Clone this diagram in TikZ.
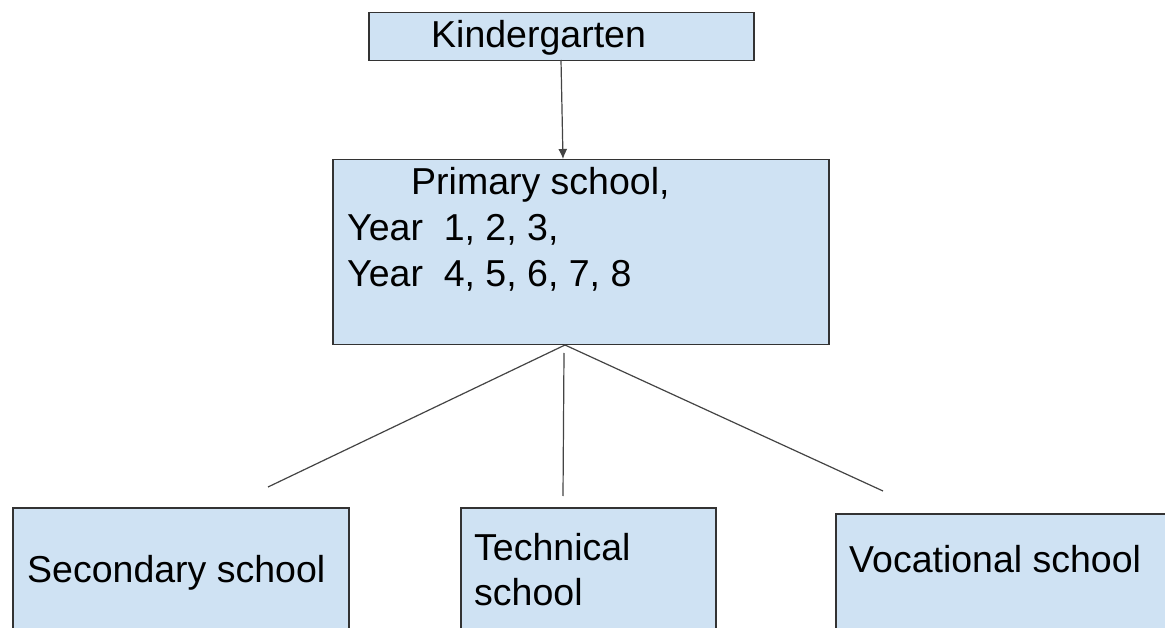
\documentclass[tikz,border=0pt]{standalone}
\usepackage{fontspec}
\setmainfont{Liberation Sans}
\usetikzlibrary{arrows.meta}
\definecolor{boxfill}{HTML}{CFE2F3}
\definecolor{boxline}{HTML}{333333}
\definecolor{conn}{HTML}{444444}
\tikzset{
  box/.style={draw=boxline, fill=boxfill, line width=1.5pt, rectangle, inner sep=0pt, anchor=north west},
  lbl/.style={inner sep=0pt, anchor=base west, align=left, font=\fontsize{37.5}{45.5}\selectfont, text=black},
  link/.style={draw=conn, line width=1.2pt},
}
\begin{document}
\begin{tikzpicture}[x=1pt,y=-1pt]
\useasboundingbox (0,0) rectangle (1165,628);
\clip (0,0) rectangle (1165,628);
\fill[white] (0,0) rectangle (1165,628);
% boxes
\node[box, minimum width=385pt, minimum height=48pt] (kg) at (368,12) {};
\node[box, minimum width=496pt, minimum height=185pt] (ps) at (332,159) {};
\node[box, minimum width=336pt, minimum height=160pt] (ss) at (12,507) {};
\node[box, minimum width=255pt, minimum height=160pt] (ts) at (460,507) {};
\node[box, minimum width=400pt, minimum height=160pt] (vs) at (835,513) {};
% texts
\node[lbl] (kgt) at (431,48) {Kindergarten};
\node[lbl] (pst1) at (411,195) {Primary school,};
\node[lbl] (pst2) at (347,241) {Year\ \ 1, 2, 3,};
\node[lbl] (pst3) at (347,287) {Year\ \ 4, 5, 6, 7, 8};
\node[lbl] (sst) at (27,582) {Secondary school};
\node[lbl] (tst1) at (474,560) {Technical};
\node[lbl] (tst2) at (474,605) {school};
\node[lbl] (vst) at (849,572) {Vocational school};
% connectors
\coordinate (kgo) at (561,60);
\coordinate (psi) at (563,159);
\coordinate (apex) at (565,345);
\coordinate (midtop) at (564,353);
\coordinate (ssend) at (268,487);
\coordinate (tsend) at (563,496);
\coordinate (vsend) at (883,491);
\draw[link, -{Latex[length=10pt,width=9pt]}] (kgo) -- (psi);
\draw[link] (apex) -- (ssend);
\draw[link] (midtop) -- (tsend);
\draw[link] (apex) -- (vsend);
\end{tikzpicture}
\end{document}
